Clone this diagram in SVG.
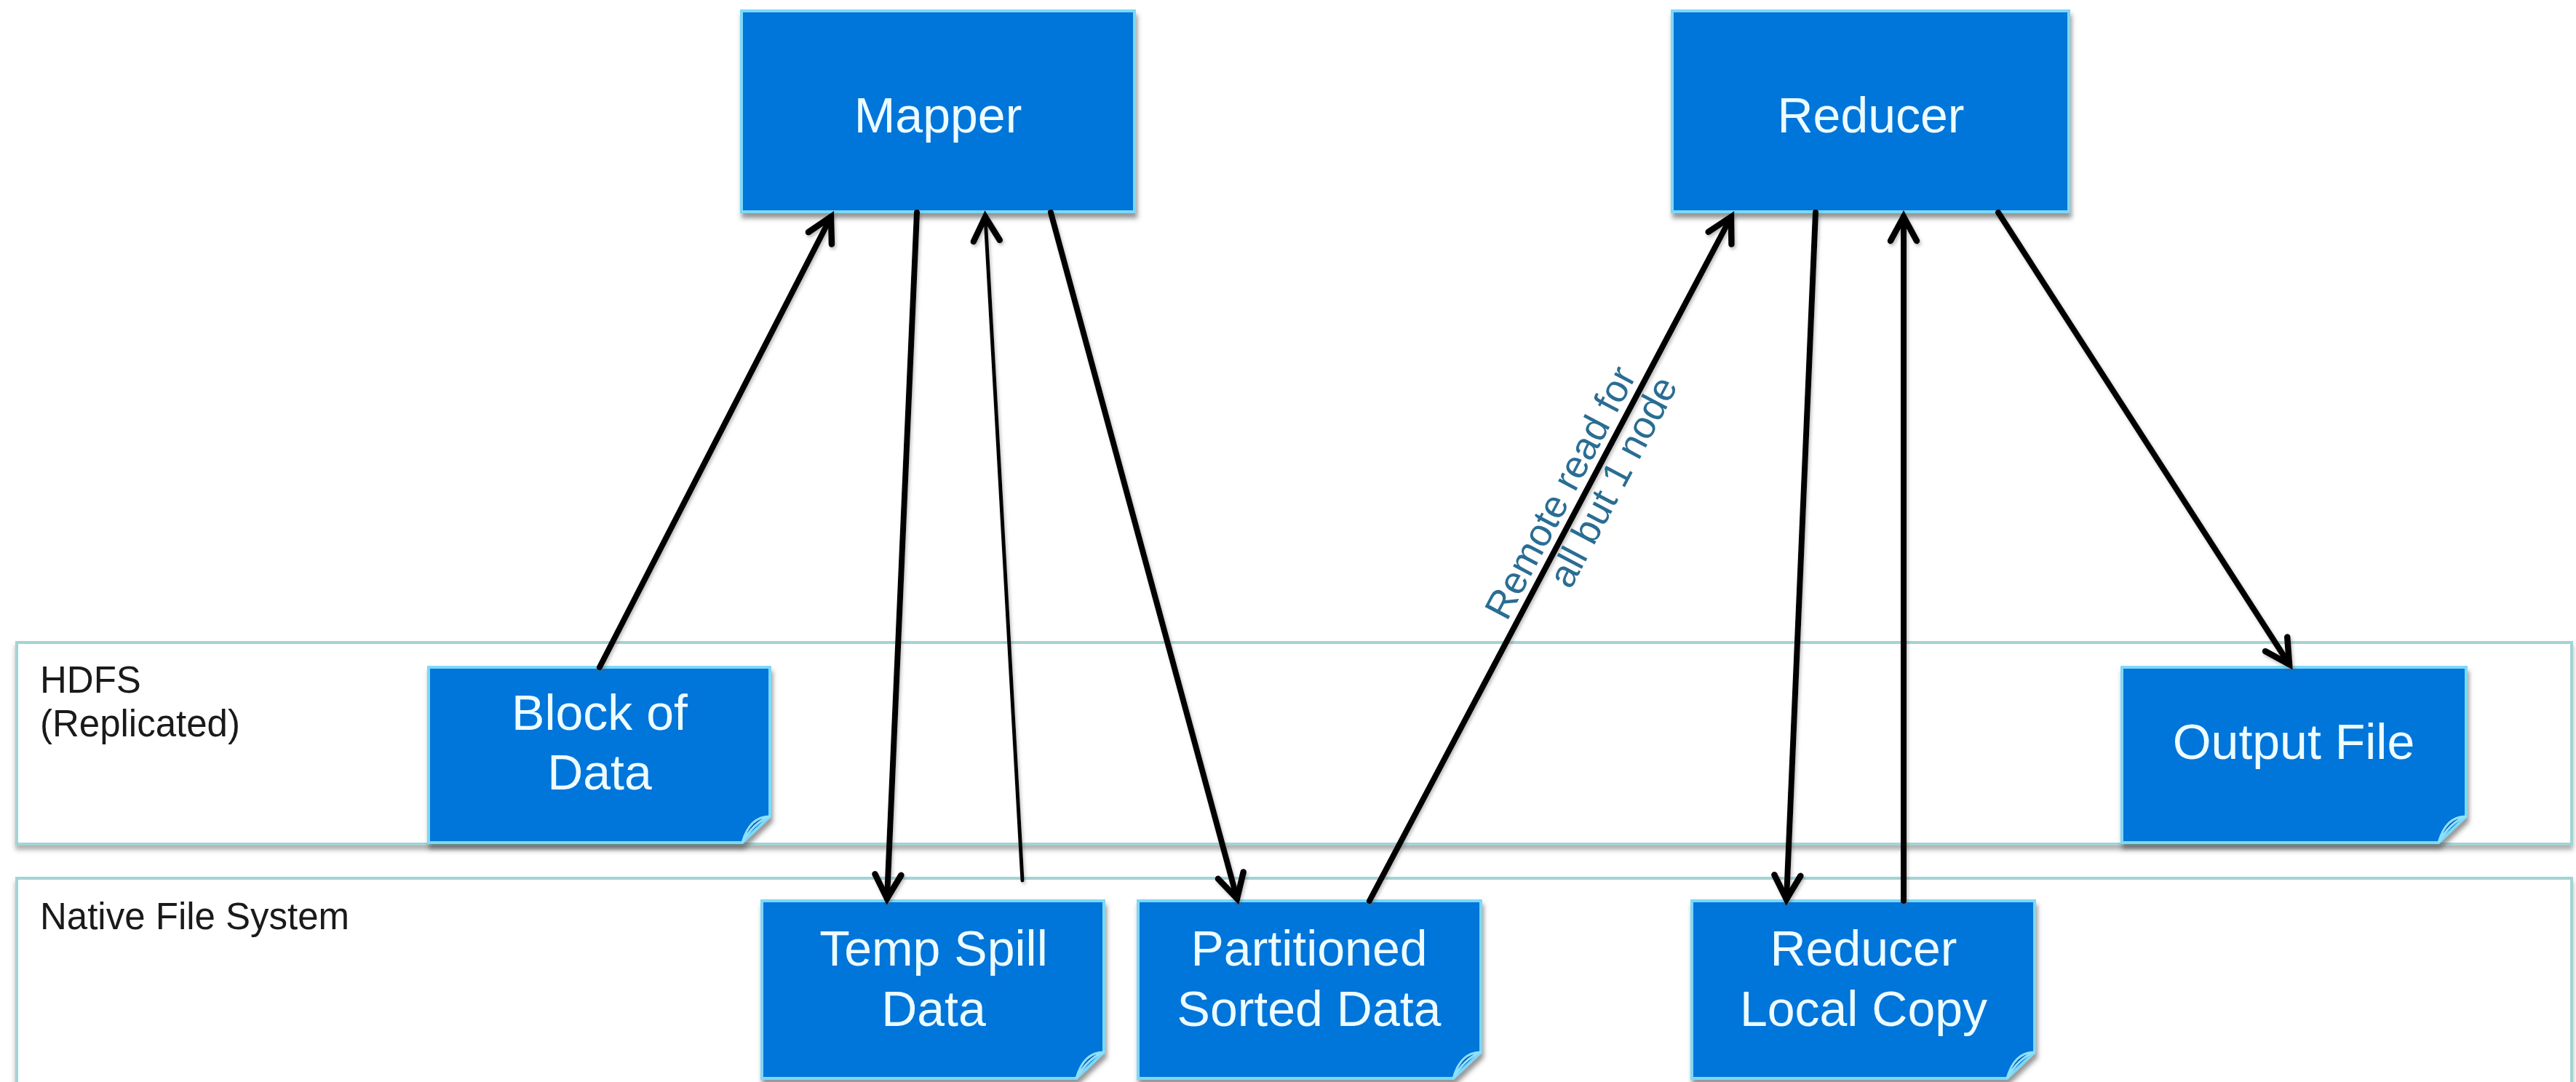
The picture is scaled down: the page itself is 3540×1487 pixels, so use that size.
<svg xmlns="http://www.w3.org/2000/svg" width="3540" height="1487" viewBox="0 0 3540 1487">
  <defs>
    <filter id="shadow" x="-10%" y="-10%" width="130%" height="130%">
      <feDropShadow dx="2" dy="7" stdDeviation="3" flood-color="#404040" flood-opacity="0.55"/>
    </filter>
    <filter id="bandShadow" x="-2%" y="-10%" width="104%" height="130%">
      <feDropShadow dx="0" dy="6" stdDeviation="3" flood-color="#505050" flood-opacity="0.45"/>
    </filter>
    <filter id="lineShadow" x="-20%" y="-5%" width="140%" height="110%">
      <feDropShadow dx="2" dy="3" stdDeviation="2" flood-color="#606060" flood-opacity="0.4"/>
    </filter>
    <marker id="arrow" markerUnits="userSpaceOnUse" markerWidth="60" markerHeight="60" viewBox="-40 -30 50 60" refX="0" refY="0" orient="auto">
      <path d="M-33,-18 L0,0 L-33,18" fill="none" stroke="#000" stroke-width="8.5" stroke-linejoin="miter" stroke-linecap="round"/>
    </marker>
  </defs>
  <style>
    .band { fill: #ffffff; stroke: #a3d3d5; stroke-width: 4; }
    .bandLabel { font-family: "Liberation Sans", Arial, sans-serif; font-size: 51px; fill: #1a1a1a; }
    .box { fill: #0074da; stroke: #7dd8f7; stroke-width: 4; }
    .curl { fill: #0a5aa8; stroke: #8fe0fa; stroke-width: 3; }
    .label { font-family: "Liberation Sans", Arial, sans-serif; font-size: 68px; fill: #ecfcff; text-anchor: middle; }
    .conn { fill: none; stroke: #000; stroke-width: 8; marker-end: url(#arrow); stroke-linecap: round; }
    .thin { stroke-width: 5; }
    .edgeLabel { font-family: "Liberation Sans", Arial, sans-serif; font-size: 53px; fill: #2a6d93; text-anchor: middle; }
  </style>
  <rect width="3540" height="1487" fill="#ffffff"/>

  <g id="band-hdfs">
    <rect class="band" x="23" y="883" width="3511" height="277" filter="url(#bandShadow)"/>
    <text class="bandLabel" x="55" y="952">HDFS</text>
    <text class="bandLabel" x="55" y="1012">(Replicated)</text>
  </g>
  <g id="band-native">
    <rect class="band" x="23" y="1207" width="3511" height="300" filter="url(#bandShadow)"/>
    <text class="bandLabel" x="55" y="1277">Native File System</text>
  </g>

  <g id="mapper">
    <rect class="box" x="1019" y="15" width="540" height="276" filter="url(#shadow)"/>
    <text class="label" x="1289" y="182">Mapper</text>
  </g>
  <g id="reducer">
    <rect class="box" x="2298" y="15" width="545" height="276" filter="url(#shadow)"/>
    <text class="label" x="2571" y="182">Reducer</text>
  </g>

  <g id="block-of-data">
    <path class="box" d="M589,917 H1058 V1122 L1020,1158 H589 Z" filter="url(#shadow)"/>
    <path class="curl" d="M1058,1122 Q1030,1122 1020,1158 Q1036,1130 1058,1122 Z"/>
    <text class="label" x="824" y="1003">Block of</text>
    <text class="label" x="824" y="1085">Data</text>
  </g>
  <g id="output-file">
    <path class="box" d="M2916,917 H3389 V1122 L3351,1158 H2916 Z" filter="url(#shadow)"/>
    <path class="curl" d="M3389,1122 Q3361,1122 3351,1158 Q3367,1130 3389,1122 Z"/>
    <text class="label" x="3152" y="1043">Output File</text>
  </g>
  <g id="temp-spill-data">
    <path class="box" d="M1047,1238 H1517 V1446 L1479,1482 H1047 Z" filter="url(#shadow)"/>
    <path class="curl" d="M1517,1446 Q1489,1446 1479,1482 Q1495,1454 1517,1446 Z"/>
    <text class="label" x="1283" y="1327">Temp Spill</text>
    <text class="label" x="1283" y="1410">Data</text>
  </g>
  <g id="partitioned-sorted-data">
    <path class="box" d="M1564,1238 H2035 V1446 L1997,1482 H1564 Z" filter="url(#shadow)"/>
    <path class="curl" d="M2035,1446 Q2007,1446 1997,1482 Q2013,1454 2035,1446 Z"/>
    <text class="label" x="1799" y="1327">Partitioned</text>
    <text class="label" x="1799" y="1410">Sorted Data</text>
  </g>
  <g id="reducer-local-copy">
    <path class="box" d="M2325,1238 H2796 V1446 L2758,1482 H2325 Z" filter="url(#shadow)"/>
    <path class="curl" d="M2796,1446 Q2768,1446 2758,1482 Q2774,1454 2796,1446 Z"/>
    <text class="label" x="2561" y="1327">Reducer</text>
    <text class="label" x="2561" y="1410">Local Copy</text>
  </g>

  <g id="connectors">
    <g filter="url(#lineShadow)">
      <line class="conn" x1="824" y1="917" x2="1142" y2="298"/>
      <line class="conn" x1="1260" y1="292" x2="1219" y2="1235"/>
      <line class="conn thin" x1="1405" y1="1210" x2="1354" y2="298"/>
      <line class="conn" x1="1444" y1="292" x2="1700" y2="1235"/>
      <line class="conn" x1="1882" y1="1238" x2="2379" y2="298"/>
      <line class="conn" x1="2495" y1="292" x2="2455" y2="1236"/>
      <line class="conn" x1="2616" y1="1238" x2="2616" y2="298"/>
      <line class="conn" x1="2746" y1="292" x2="3146" y2="913"/>
    </g>
    <g transform="translate(2187,660) rotate(-62.2)">
      <text class="edgeLabel" x="-35" y="-12">Remote read for</text>
      <text class="edgeLabel" x="12" y="45">all but 1 node</text>
    </g>
  </g>
</svg>
